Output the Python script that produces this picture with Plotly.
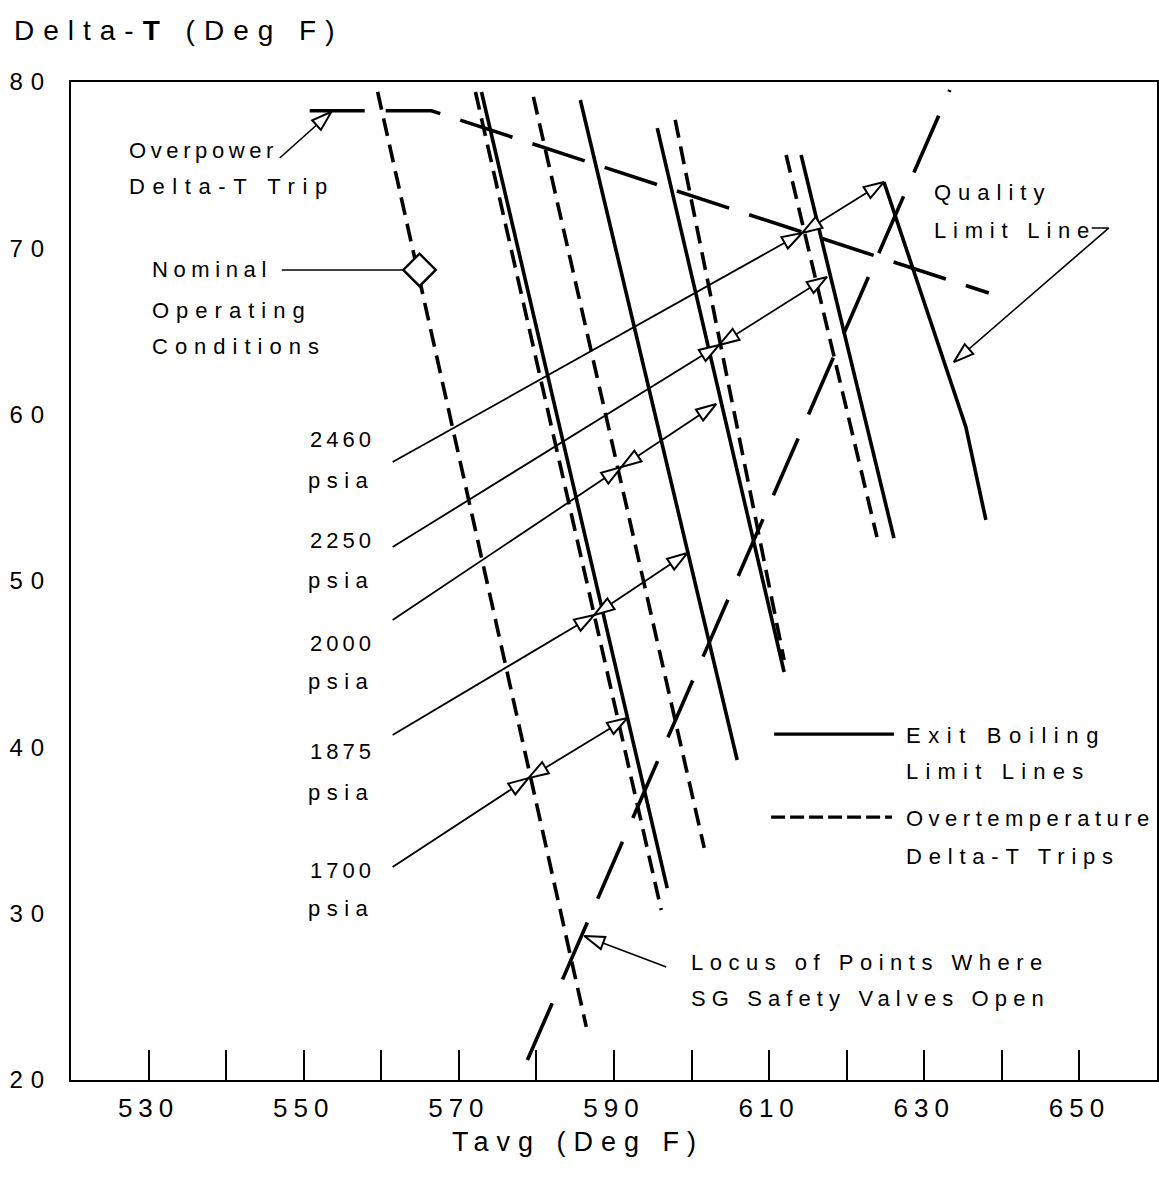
import plotly.graph_objects as go

# ---------------- data ----------------
X_RANGE = [520, 660]
Y_RANGE = [20, 80]
X_TICKS = [530, 540, 550, 560, 570, 580, 590, 600, 610, 620, 630, 640, 650]
X_TICK_LABELS = ["530", "", "550", "", "570", "", "590", "", "610", "", "630", "", "650"]
Y_TICKS = [20, 30, 40, 50, 60, 70, 80]
Y_TICK_LABELS = ["20", "30", "40", "50", "60", "70", "80"]

# Exit boiling limit lines (solid)
EB_1700_X = [572.92, 596.86]
EB_1700_Y = [79.40, 31.54]
EB_1875_X = [585.66, 605.88]
EB_1875_Y = [78.92, 39.24]
EB_2000_X = [595.58, 611.93]
EB_2000_Y = [77.23, 44.53]
EB_2250_X = [614.12, 626.09]
EB_2250_Y = [75.61, 52.58]
QUALITY_X = [624.80, 635.36, 637.94]
QUALITY_Y = [73.99, 59.26, 53.67]

# Overtemperature delta-T trips (dashed)
OT_1700_X = [559.53, 586.43]
OT_1700_Y = [79.40, 23.19]
OT_1875_X = [572.14, 596.09]
OT_1875_Y = [79.40, 30.22]
OT_2000_X = [579.61, 601.63]
OT_2000_Y = [79.10, 33.95]
OT_2250_X = [597.89, 611.93]
OT_2250_Y = [77.72, 45.25]
OT_2460_X = [612.19, 623.90]
OT_2460_Y = [75.61, 52.64]

# Overpower delta-T trip
OVERPOWER_X = [550.77, 566.48, 638.32]
OVERPOWER_Y = [78.27, 78.27, 67.31]

# Locus of points where SG safety valves open
LOCUS_X = [578.84, 633.30]
LOCUS_Y = [21.20, 79.52]

# Nominal operating point
NOMINAL_X = [564.93]
NOMINAL_Y = [68.70]

# Constant pressure lines: start, overtemperature point, exit boiling point
PRESSURES = ["2460", "2250", "2000", "1875", "1700"]
PL_START_X = [561.46, 561.46, 561.46, 561.46, 561.46]
PL_START_Y = [57.15, 52.04, 47.65, 40.74, 32.80]
PL_OT_X = [614.25, 603.56, 590.94, 587.47, 578.97]
PL_OT_Y = [70.92, 64.19, 56.85, 47.96, 38.15]
PL_EB_X = [624.80, 617.46, 603.17, 599.44, 591.71]
PL_EB_Y = [73.99, 68.28, 60.64, 51.68, 41.76]

# ---------------- styling helpers ----------------
FONT = "Liberation Sans, Arial, sans-serif"
THICK = 3.6
THIN = 1.8


def spaced(text, gap):
    return f'<span style="letter-spacing:{gap}px">{text}</span>'


fig = go.Figure()


def add_line(x, y, width, dash="solid"):
    fig.add_trace(go.Scatter(x=x, y=y, mode="lines",
                             line=dict(color="black", width=width, dash=dash),
                             hoverinfo="skip", showlegend=False))


def add_arrowhead(x0, y0, x1, y1, size=21):
    fig.add_trace(go.Scatter(x=[x0, x1], y=[y0, y1], mode="markers",
                             marker=dict(symbol="arrow", size=[0, size], opacity=[0, 1],
                                         angleref="previous", color="white",
                                         line=dict(color="black", width=2)),
                             hoverinfo="skip", showlegend=False))


OT_DASH = "18px,9px"

# main curves
for x, y in [(EB_1700_X, EB_1700_Y), (EB_1875_X, EB_1875_Y), (EB_2000_X, EB_2000_Y),
             (EB_2250_X, EB_2250_Y), (QUALITY_X, QUALITY_Y)]:
    add_line(x, y, THICK)
for x, y in [(OT_1700_X, OT_1700_Y), (OT_1875_X, OT_1875_Y), (OT_2000_X, OT_2000_Y),
             (OT_2250_X, OT_2250_Y), (OT_2460_X, OT_2460_Y)]:
    add_line(x, y, THICK, OT_DASH)
add_line(OVERPOWER_X, OVERPOWER_Y, THICK, "55px,21px")
add_line(LOCUS_X, LOCUS_Y, THICK, "62px,26px")

# constant-pressure lines
for i in range(len(PRESSURES)):
    add_line([PL_START_X[i], PL_OT_X[i]], [PL_START_Y[i], PL_OT_Y[i]], THIN)
    add_line([PL_OT_X[i], PL_EB_X[i]], [PL_OT_Y[i], PL_EB_Y[i]], THIN)

# legend sample lines (inside the plot)
LEG_SOLID_X = [610.64, 626.09]
LEG_SOLID_Y = [40.8, 40.8]
LEG_DASH_X = [610.25, 625.83]
LEG_DASH_Y = [35.81, 35.81]
add_line(LEG_SOLID_X, LEG_SOLID_Y, 3.2)
add_line(LEG_DASH_X, LEG_DASH_Y, 3.2, "14px,5px")

# callout leader lines
OP_LEADER_X = [546.91, 553.57]
OP_LEADER_Y = [75.43, 78.21]
Q_LEADER_X = [651.58, 653.77, 633.81]
Q_LEADER_Y = [71.22, 71.22, 63.16]
LOC_LEADER_X = [596.74, 586.18]
LOC_LEADER_Y = [26.80, 28.66]
NOM_LEADER_X = [547.17, 563.39]
NOM_LEADER_Y = [68.70, 68.70]
add_line(OP_LEADER_X, OP_LEADER_Y, 1.6)
add_line(Q_LEADER_X, Q_LEADER_Y, 1.6)
add_line(LOC_LEADER_X, LOC_LEADER_Y, 1.6)
add_line(NOM_LEADER_X, NOM_LEADER_Y, 1.6)

# arrowheads
for i in range(len(PRESSURES)):
    add_arrowhead(PL_START_X[i], PL_START_Y[i], PL_OT_X[i], PL_OT_Y[i])
    add_arrowhead(PL_EB_X[i], PL_EB_Y[i], PL_OT_X[i], PL_OT_Y[i])
    add_arrowhead(PL_OT_X[i], PL_OT_Y[i], PL_EB_X[i], PL_EB_Y[i])
add_arrowhead(OP_LEADER_X[0], OP_LEADER_Y[0], OP_LEADER_X[1], OP_LEADER_Y[1])
add_arrowhead(Q_LEADER_X[1], Q_LEADER_Y[1], Q_LEADER_X[2], Q_LEADER_Y[2])
add_arrowhead(LOC_LEADER_X[0], LOC_LEADER_Y[0], LOC_LEADER_X[1], LOC_LEADER_Y[1])

# nominal operating point
fig.add_trace(go.Scatter(x=NOMINAL_X, y=NOMINAL_Y, mode="markers",
                         marker=dict(symbol="diamond", size=25, color="white",
                                     line=dict(color="black", width=2.4)),
                         hoverinfo="skip", showlegend=False))

# ---------------- text ----------------
def label(x, y, text, gap, anchor="left", size=22):
    fig.add_annotation(x=x, y=y, xref="x", yref="y", text=spaced(text, gap),
                       showarrow=False, xanchor=anchor, yanchor="middle",
                       font=dict(family=FONT, size=size, color="black"))


label(527.2, 75.91, "Overpower", 4.6)
label(527.2, 73.69, "Delta-T Trip", 7.6)
label(530.2, 68.70, "Nominal", 5.6)
label(530.2, 66.29, "Operating", 7)
label(530.2, 64.07, "Conditions", 7)
PRESSURE_LABEL_Y = [58.48, 52.46, 46.27, 39.72, 32.62]
PSIA_LABEL_Y = [56.07, 50.06, 43.93, 37.31, 30.34]
for p, ly, py in zip(PRESSURES, PRESSURE_LABEL_Y, PSIA_LABEL_Y):
    label(555.0, ly, p, 4, anchor="center")
    label(554.8, py, "psia", 6.5, anchor="center")
label(630.98, 73.33, "Quality", 7)
label(630.98, 71.10, "Limit Line", 6.8)
label(627.4, 40.74, "Exit Boiling", 7.6)
label(627.4, 38.52, "Limit Lines", 7.2)
label(627.4, 35.75, "Overtemperature", 5.5)
label(627.4, 33.41, "Delta-T Trips", 6.8)
label(599.7, 27.09, "Locus of Points Where", 6.5)
label(599.7, 24.93, "SG Safety Valves Open", 6.1)

# axis titles
fig.add_annotation(x=-0.054, y=1.052, xref="paper", yref="paper",
                   text=spaced("Delta-<b>T</b> (Deg F)", 9), showarrow=False,
                   xanchor="left", yanchor="middle",
                   font=dict(family=FONT, size=28, color="black"))
fig.add_annotation(x=0.467, y=-0.062, xref="paper", yref="paper",
                   text=spaced("Tavg (Deg F)", 8), showarrow=False,
                   xanchor="center", yanchor="middle",
                   font=dict(family=FONT, size=27, color="black"))

fig.update_layout(
    width=1159, height=1179,
    margin=dict(l=71, r=2, t=82, b=99),
    paper_bgcolor="white", plot_bgcolor="white",
    showlegend=False,
    xaxis=dict(range=X_RANGE, tickmode="array", tickvals=X_TICKS,
               ticktext=[spaced(t, 6) if t else "" for t in X_TICK_LABELS],
               ticks="inside", ticklen=30, tickwidth=1.5, tickcolor="black",
               showline=True, linecolor="black", linewidth=2, mirror=True,
               showgrid=False, zeroline=False, ticklabelstandoff=4,
               automargin=False,
               tickfont=dict(family=FONT, size=26, color="black")),
    yaxis=dict(range=Y_RANGE, tickmode="array", tickvals=Y_TICKS,
               ticktext=[spaced(t, 8) for t in Y_TICK_LABELS],
               ticks="", showline=True, linecolor="black", linewidth=2, mirror=True,
               showgrid=False, zeroline=False, ticklabelstandoff=12,
               automargin=False,
               tickfont=dict(family=FONT, size=24, color="black")),
)

fig.write_html(
    "out.html",
    config={"displayModeBar": False},
    post_script="document.body.style.margin='0px';"
                "document.documentElement.style.overflow='hidden';",
)
